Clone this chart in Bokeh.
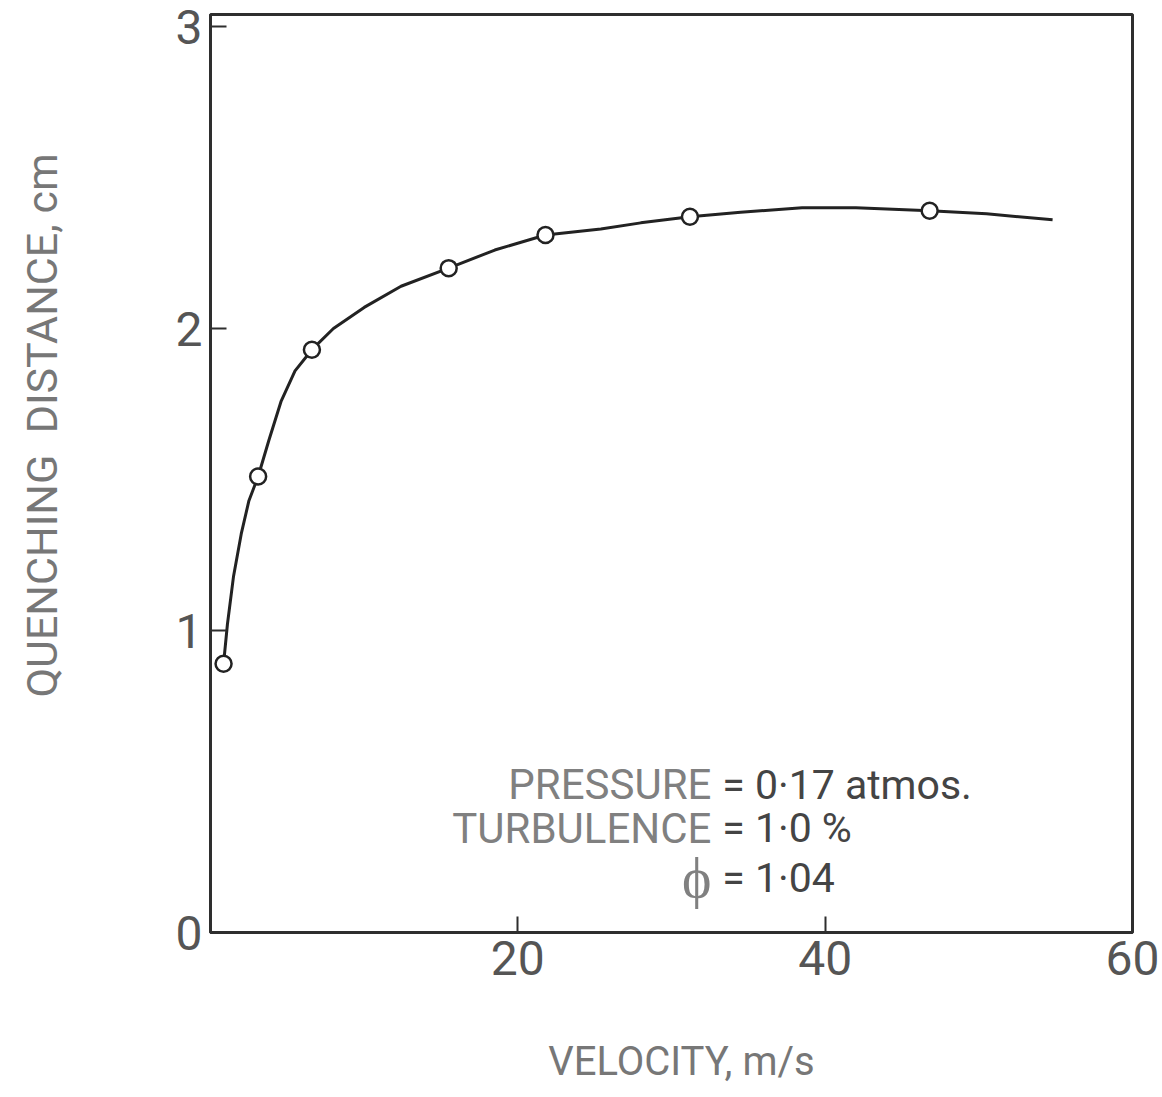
from bokeh.plotting import figure
from bokeh.models import FixedTicker, Range1d, Label
from bokeh.embed import file_html
from bokeh.resources import INLINE

# measured points (velocity m/s, quenching distance cm)
point_velocity = [0.85, 3.1, 6.6, 15.5, 21.8, 31.2, 46.8]
point_distance = [0.89, 1.51, 1.93, 2.20, 2.31, 2.37, 2.39]

# hand-drawn smooth curve
curve_velocity = [0.85, 1.1, 1.5, 2.0, 2.5, 3.1, 3.8, 4.6, 5.5, 6.6, 8.0, 10.0, 12.4,
                  15.5, 18.5, 21.8, 25.4, 28.0, 31.2, 34.5, 38.5, 42.0, 46.8, 50.5, 54.8]
curve_distance = [0.89, 1.02, 1.18, 1.32, 1.43, 1.51, 1.63, 1.76, 1.86, 1.93, 2.00, 2.07, 2.14,
                  2.20, 2.26, 2.31, 2.33, 2.35, 2.37, 2.385, 2.40, 2.40, 2.39, 2.38, 2.36]

x_ticks = [20, 40, 60]
y_ticks = [0, 1, 2, 3]

FONT = "Roboto"
FRAME = "#2e2e2e"

p = figure(width=1162, height=1097, output_backend="svg", toolbar_location=None,
           x_range=Range1d(0, 60), y_range=Range1d(0, 3.04),
           min_border_left=210, min_border_right=30, min_border_top=14, min_border_bottom=165)
p.grid.visible = False
p.background_fill_color = "white"
p.border_fill_color = "white"
p.outline_line_color = FRAME
p.outline_line_width = 3

for ax in (p.xaxis[0], p.yaxis[0]):
    ax.axis_line_color = FRAME
    ax.axis_line_width = 3
    ax.major_tick_in = 16
    ax.major_tick_out = 0
    ax.major_tick_line_color = FRAME
    ax.major_tick_line_width = 2
    ax.minor_tick_line_color = None
    ax.major_label_text_font = FONT
    ax.major_label_text_font_size = "48px"
    ax.major_label_text_color = "#555555"
    ax.axis_label_text_font = FONT
    ax.axis_label_text_font_style = "normal"
    ax.axis_label_text_color = "#777777"

p.xaxis[0].ticker = FixedTicker(ticks=x_ticks)
p.yaxis[0].ticker = FixedTicker(ticks=y_ticks)
p.xaxis[0].major_label_standoff = 8
p.yaxis[0].major_label_standoff = 8
p.xaxis[0].axis_label = "\u00a0\u00a0VELOCITY, m/s"
p.xaxis[0].axis_label_text_font_size = "40px"
p.xaxis[0].axis_label_standoff = 60
p.yaxis[0].axis_label = "\u00a0" * 9 + "QUENCHING\u00a0\u00a0DISTANCE,\u00a0cm"
p.yaxis[0].axis_label_text_font_size = "43px"
p.yaxis[0].axis_label_standoff = 106

p.line(curve_velocity, curve_distance, line_color="#222222", line_width=3)
p.scatter(point_velocity, point_distance, size=16, marker="circle",
          fill_color="white", line_color="#222222", line_width=2.5)

left_parts = ["PRESSURE", "TURBULENCE", "\u03d5"]
left_sizes = ["42px", "42px", "56px"]
right_parts = ["= 0\u00b717 atmos.", "= 1\u00b70 %", "= 1\u00b704"]
label_y = [0.49, 0.345, 0.18]
for lt, ls, rt, yy in zip(left_parts, left_sizes, right_parts, label_y):
    p.add_layout(Label(x=32.6, y=yy, text=lt, text_align="right", text_baseline="alphabetic",
                       text_font=FONT, text_font_size=ls, text_color="#808080"))
    p.add_layout(Label(x=33.3, y=yy, text=rt, text_align="left", text_baseline="alphabetic",
                       text_font=FONT, text_font_size="41px", text_color="#444444"))

open("out.html", "w").write(file_html(p, INLINE))
